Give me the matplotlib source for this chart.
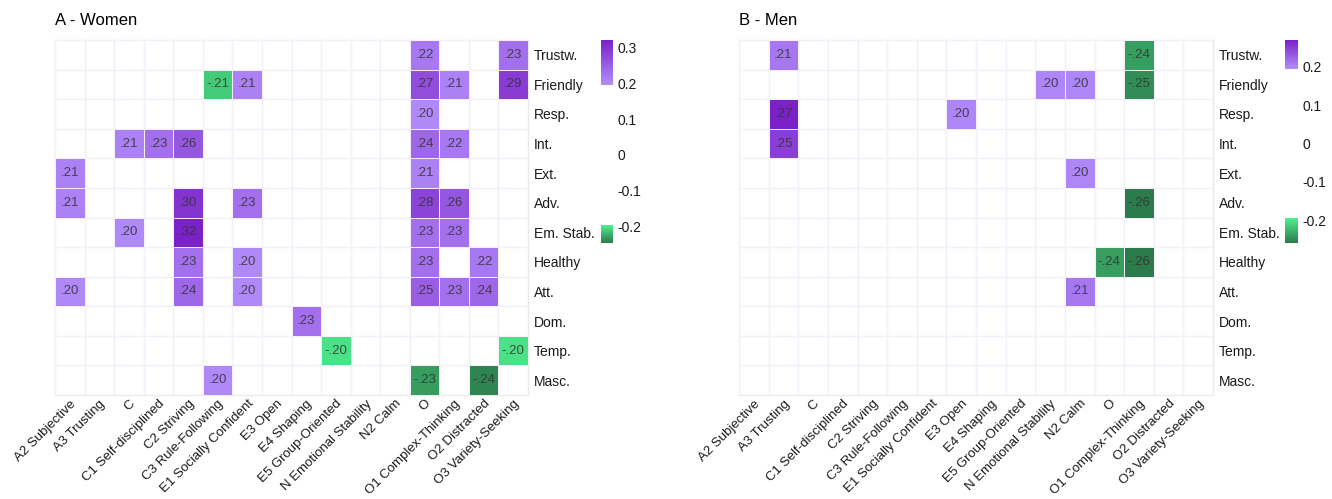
import numpy as np
import matplotlib
matplotlib.use('Agg')
import matplotlib.pyplot as plt
from matplotlib.colors import LinearSegmentedColormap, Normalize

plt.rcParams['font.family'] = ['Liberation Sans', 'DejaVu Sans']

# trait ratings (rows) and personality facets (columns)
rows = ['Trustw.', 'Friendly', 'Resp.', 'Int.', 'Ext.', 'Adv.', 'Em. Stab.',
        'Healthy', 'Att.', 'Dom.', 'Temp.', 'Masc.']
cols = ['A2 Subjective', 'A3 Trusting', 'C', 'C1 Self-disciplined', 'C2 Striving',
        'C3 Rule-Following', 'E1 Socially Confident', 'E3 Open', 'E4 Shaping',
        'E5 Group-Oriented', 'N Emotional Stability', 'N2 Calm', 'O',
        'O1 Complex-Thinking', 'O2 Distracted', 'O3 Variety-Seeking']

_ = np.nan
# significant correlations only, blanks left empty
women = np.array([
    [_, _, _, _, _, _, _, _, _, _, _, _, .22, _, _, .23],
    [_, _, _, _, _, -.21, .21, _, _, _, _, _, .27, .21, _, .29],
    [_, _, _, _, _, _, _, _, _, _, _, _, .20, _, _, _],
    [_, _, .21, .23, .26, _, _, _, _, _, _, _, .24, .22, _, _],
    [.21, _, _, _, _, _, _, _, _, _, _, _, .21, _, _, _],
    [.21, _, _, _, .30, _, .23, _, _, _, _, _, .28, .26, _, _],
    [_, _, .20, _, .32, _, _, _, _, _, _, _, .23, .23, _, _],
    [_, _, _, _, .23, _, .20, _, _, _, _, _, .23, _, .22, _],
    [.20, _, _, _, .24, _, .20, _, _, _, _, _, .25, .23, .24, _],
    [_, _, _, _, _, _, _, _, .23, _, _, _, _, _, _, _],
    [_, _, _, _, _, _, _, _, _, -.20, _, _, _, _, _, -.20],
    [_, _, _, _, _, .20, _, _, _, _, _, _, -.23, _, -.24, _],
])
men = np.array([
    [_, .21, _, _, _, _, _, _, _, _, _, _, _, -.24, _, _],
    [_, _, _, _, _, _, _, _, _, _, .20, .20, _, -.25, _, _],
    [_, .27, _, _, _, _, _, .20, _, _, _, _, _, _, _, _],
    [_, .25, _, _, _, _, _, _, _, _, _, _, _, _, _, _],
    [_, _, _, _, _, _, _, _, _, _, _, .20, _, _, _, _],
    [_, _, _, _, _, _, _, _, _, _, _, _, _, -.26, _, _],
    [_, _, _, _, _, _, _, _, _, _, _, _, _, _, _, _],
    [_, _, _, _, _, _, _, _, _, _, _, _, -.24, -.26, _, _],
    [_, _, _, _, _, _, _, _, _, _, _, .21, _, _, _, _],
    [_, _, _, _, _, _, _, _, _, _, _, _, _, _, _, _],
    [_, _, _, _, _, _, _, _, _, _, _, _, _, _, _, _],
    [_, _, _, _, _, _, _, _, _, _, _, _, _, _, _, _],
])

women_ticks = [0.3, 0.2, 0.1, 0, -0.1, -0.2]
men_ticks = [0.2, 0.1, 0, -0.1, -0.2]


def make_cmap(vmin, vmax, cut=0.195):
    pos = lambda v: (v - vmin) / (vmax - vmin)
    stops = [(0, '#2c7b4c'), (pos(-cut), '#4ff08f'), (pos(-cut) + 1e-4, 'white'),
             (pos(cut) - 1e-4, 'white'), (pos(cut), '#b38efb'), (1, '#7a22c8')]
    return LinearSegmentedColormap.from_list('div', stops, N=512)


def fmt_cell(v):
    return f'{v:.2f}'.replace('0.', '.')


def draw_panel(fig, ax, cax, data, vmin, vmax, ticks, title):
    cmap = make_cmap(vmin, vmax)
    norm = Normalize(vmin, vmax)
    nr, nc = data.shape
    for i in range(nr + 1):
        ax.axhline(i, color='#ebebeb', lw=1, zorder=0, clip_on=False)
    for j in range(nc + 1):
        ax.axvline(j, color='#ebebeb', lw=1, zorder=0, clip_on=False)
    ax.pcolormesh(np.ma.masked_invalid(data), cmap=cmap, norm=norm,
                  edgecolors='#f4f0fb', linewidth=0.6, zorder=1)
    for i in range(nr):
        for j in range(nc):
            v = data[i, j]
            if not np.isnan(v):
                ax.text(j + 0.5, i + 0.5, fmt_cell(v), ha='center', va='center',
                        fontsize=9.5, color='#333333', alpha=0.85, zorder=2)
    ax.set_xlim(0, nc)
    ax.set_ylim(nr, 0)
    ax.set_xticks(np.arange(nc) + 0.5)
    ax.set_xticklabels(cols, rotation=45, ha='right', rotation_mode='anchor')
    ax.set_yticks(np.arange(nr) + 0.5)
    ax.set_yticklabels(rows)
    ax.yaxis.tick_right()
    ax.tick_params(length=0, labelcolor='#1a1a1a')
    ax.tick_params(axis='x', pad=2, labelsize=9.5)
    ax.tick_params(axis='y', pad=4, labelsize=10)
    for s in ax.spines.values():
        s.set_visible(False)
    ax.set_title(title, loc='left', fontsize=12, pad=11)

    sm = plt.cm.ScalarMappable(norm=norm, cmap=cmap)
    cb = fig.colorbar(sm, cax=cax)
    cb.outline.set_visible(False)
    cb.set_ticks(ticks)
    cb.set_ticklabels(['0' if t == 0 else f'{t:g}' for t in ticks])
    cax.tick_params(length=0, pad=3, labelsize=10, labelcolor='#1a1a1a')


W, H = 1332, 499
fig = plt.figure(figsize=(W / 100, H / 100), dpi=100)

ax_w = fig.add_axes([55 / W, 1 - 395 / H, 473 / W, 355 / H])
cax_w = fig.add_axes([601 / W, 1 - 243 / H, 12 / W, 203 / H])
ax_m = fig.add_axes([739 / W, 1 - 395 / H, 474 / W, 355 / H])
cax_m = fig.add_axes([1285 / W, 1 - 243 / H, 13 / W, 203 / H])

draw_panel(fig, ax_w, cax_w, women, -0.245, 0.32, women_ticks, 'A - Women')
draw_panel(fig, ax_m, cax_m, men, -0.26, 0.27, men_ticks, 'B - Men')

fig.savefig('out.png', dpi=100)
